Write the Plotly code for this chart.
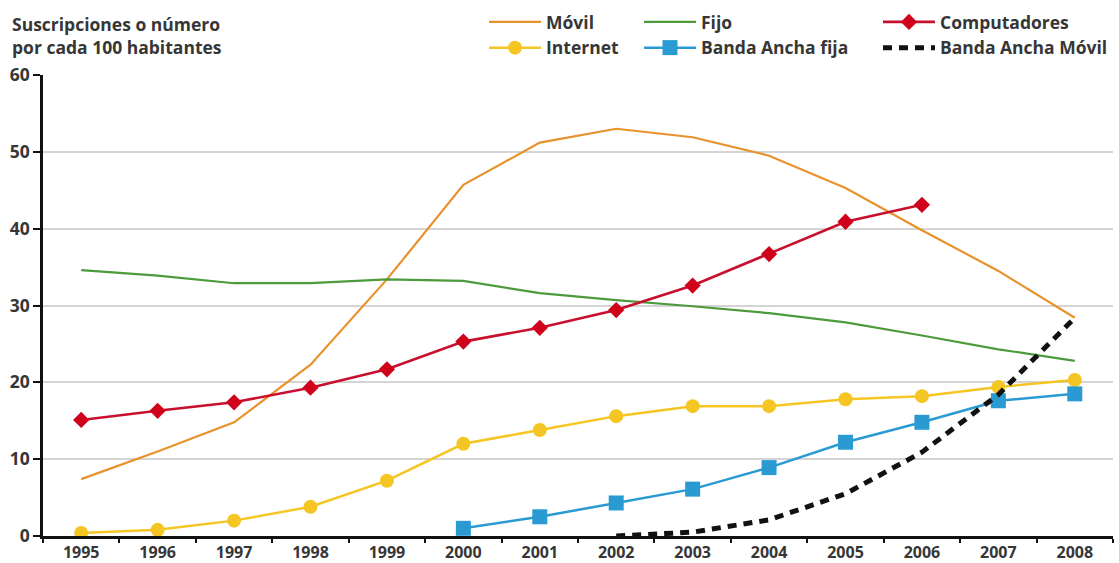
import plotly.graph_objects as go

years = [str(y) for y in range(1995, 2009)]

movil = [7.4, 11.0, 14.8, 22.3, 33.4, 45.7, 51.2, 53.0, 51.9, 49.5, 45.3, 39.8, 34.5, 28.4]
fijo = [34.6, 33.9, 32.9, 32.9, 33.4, 33.2, 31.6, 30.7, 29.9, 29.0, 27.8, 26.1, 24.3, 22.8]
computadores = [15.1, 16.3, 17.4, 19.3, 21.7, 25.3, 27.1, 29.4, 32.6, 36.7, 40.9, 43.1]
internet = [0.4, 0.8, 2.0, 3.8, 7.2, 12.0, 13.8, 15.6, 16.9, 16.9, 17.8, 18.2, 19.4, 20.3]
banda_fija_years = years[5:]
banda_fija = [1.0, 2.5, 4.3, 6.1, 8.9, 12.2, 14.8, 17.6, 18.5]
banda_movil_years = years[7:]
banda_movil = [0.0, 0.5, 2.1, 5.5, 10.9, 18.4, 28.4]

FONT = "Open Sans"
TXT = "#363636"
FS = 17.5

fig = go.Figure()

fig.add_trace(go.Scatter(
    x=years, y=movil, name="<b>Móvil</b>", mode="lines",
    line=dict(color="#E8922C", width=2.2), legend="legend"))
fig.add_trace(go.Scatter(
    x=years, y=internet, name="<b>Internet</b>", mode="lines+markers",
    line=dict(color="#F5C623", width=2.5),
    marker=dict(symbol="circle", size=14, color="#F5C623"), legend="legend"))
fig.add_trace(go.Scatter(
    x=years, y=fijo, name="<b>Fijo</b>", mode="lines",
    line=dict(color="#4C9A3C", width=2.2), legend="legend2"))
fig.add_trace(go.Scatter(
    x=banda_fija_years, y=banda_fija, name="<b>Banda Ancha fija</b>", mode="lines+markers",
    line=dict(color="#2A9AD3", width=2.5),
    marker=dict(symbol="square", size=15, color="#2A9AD3"), legend="legend2"))
fig.add_trace(go.Scatter(
    x=years[:len(computadores)], y=computadores, name="<b>Computadores</b>", mode="lines+markers",
    line=dict(color="#C8102E", width=2.6),
    marker=dict(symbol="diamond", size=12.5, color="#D0021B"), legend="legend3"))
fig.add_trace(go.Scatter(
    x=banda_movil_years, y=banda_movil, name="<b>Banda Ancha Móvil</b>", mode="lines",
    line=dict(color="#111111", width=5, dash="9px,7px"), legend="legend3"))

legend_common = dict(
    orientation="v", xref="container", yref="container", yanchor="top",
    y=1 - 4 / 563, font=dict(family=FONT, size=FS, color=TXT),
    bgcolor="rgba(0,0,0,0)", itemwidth=52, tracegroupgap=0,
    itemclick=False, itemdoubleclick=False,
)

fig.update_layout(
    width=1119, height=563,
    margin=dict(l=43, r=6, t=75, b=27, autoexpand=False),
    paper_bgcolor="white", plot_bgcolor="white",
    font=dict(family=FONT, size=FS, color=TXT),
    showlegend=True,
    legend=dict(legend_common, x=484 / 1119, xanchor="left"),
    legend2=dict(legend_common, x=639 / 1119, xanchor="left"),
    legend3=dict(legend_common, x=878 / 1119, xanchor="left"),
    xaxis=dict(
        type="category", categoryorder="array", categoryarray=years,
        tickson="boundaries", ticks="outside", ticklen=4, tickwidth=2, tickcolor="#111",
        showline=True, linecolor="#111", linewidth=2.5, showgrid=False,
        tickfont=dict(family=FONT, size=16, color=TXT, weight="bold"),
        range=[-0.5, 13.5], fixedrange=True, automargin=False,
    ),
    yaxis=dict(
        range=[0, 60], dtick=10, ticks="outside", ticklen=7, tickwidth=2, tickcolor="#111",
        showline=True, linecolor="#111", linewidth=2.5,
        showgrid=True, gridcolor="#D4D4D4", gridwidth=2, zeroline=False,
        tickfont=dict(family=FONT, size=17.5, color=TXT, weight="bold"),
        fixedrange=True, automargin=False,
    ),
    annotations=[dict(
        text="<b>Suscripciones o número<br>por cada 100 habitantes</b>",
        xref="paper", yref="paper", x=-33 / 1070, y=1 + 65 / 461,
        xanchor="left", yanchor="top", align="left", showarrow=False,
        font=dict(family=FONT, size=FS, color=TXT),
    )],
)

fig.write_html("out.html")
